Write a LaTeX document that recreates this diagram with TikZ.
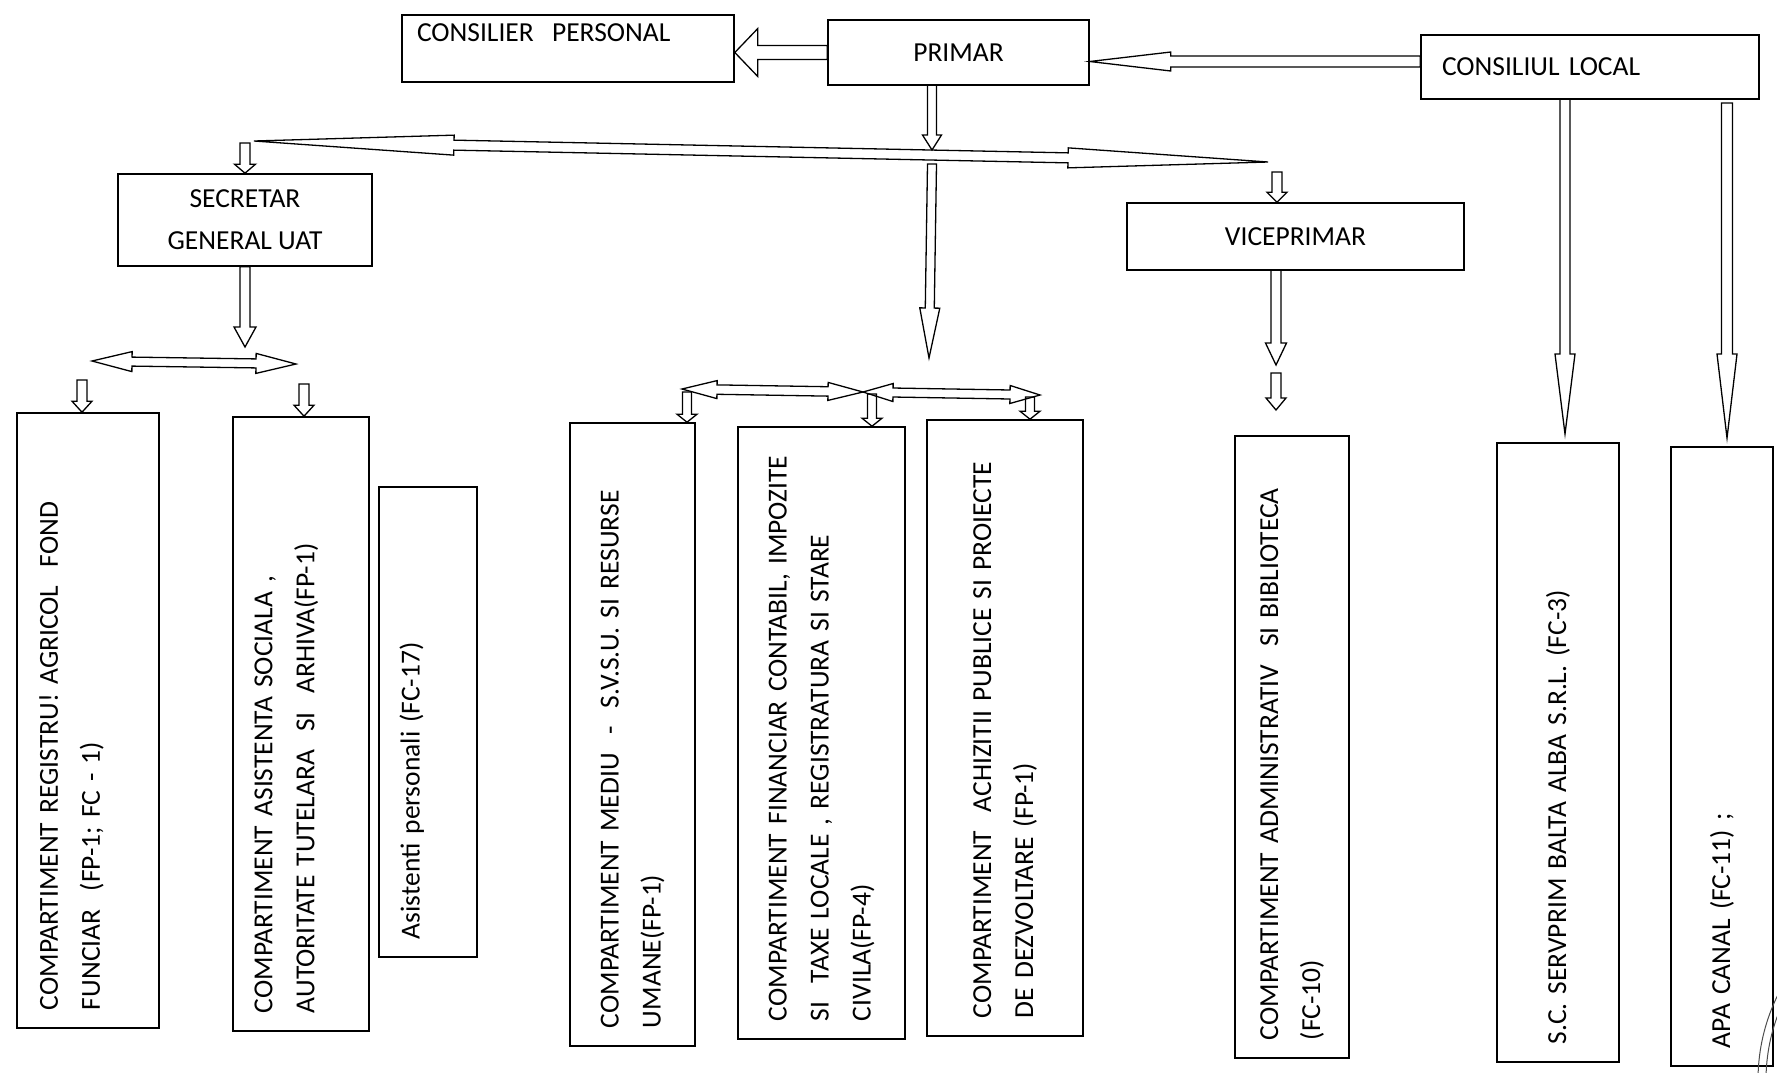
\documentclass[tikz,border=0pt]{standalone}
\usepackage{fontspec}
\setmainfont{Carlito}
\usetikzlibrary{calc, positioning}
\newcommand{\orgfont}{\fontsize{27.5}{42}\selectfont}
% hollow block arrow: from, to, half shaft, half head, head length
\newcommand{\blockarrow}[5]{%
  \coordinate (ab) at ($(#2)!#5pt!(#1)$);
  \draw[arrowline] ($(#1)!#3pt!90:(#2)$) -- ($(ab)!#3pt!90:(#2)$) -- ($(ab)!#4pt!90:(#2)$) -- (#2)
    -- ($(ab)!#4pt!-90:(#2)$) -- ($(ab)!#3pt!-90:(#2)$) -- ($(#1)!#3pt!-90:(#2)$) -- cycle;}
% hollow block arrow with a head at both ends
\newcommand{\dblockarrow}[5]{%
  \coordinate (aa) at ($(#1)!#5pt!(#2)$);
  \coordinate (ab) at ($(#2)!#5pt!(#1)$);
  \draw[arrowline] (#1) -- ($(aa)!#4pt!90:(#2)$) -- ($(aa)!#3pt!90:(#2)$) -- ($(ab)!#3pt!90:(#2)$)
    -- ($(ab)!#4pt!90:(#2)$) -- (#2) -- ($(ab)!#4pt!-90:(#2)$) -- ($(ab)!#3pt!-90:(#2)$)
    -- ($(aa)!#3pt!-90:(#2)$) -- ($(aa)!#4pt!-90:(#2)$) -- cycle;}

\begin{document}
\begin{tikzpicture}[x=1pt, y=-1pt,
    box/.style={draw, line width=1.6pt, inner sep=0pt, font=\orgfont},
    unit/.style={box, rotate=90, align=left, inner xsep=18pt},
    arrowline/.style={draw, line width=1.3pt}]
\useasboundingbox (0,0) rectangle (1777,1072);

\node[box, minimum width=332pt, minimum height=67pt, text width=302pt, inner xsep=15pt, align=left, text height=20pt, text depth=35pt] (cp) at (568,48.5) {CONSILIER\ \ PERSONAL};
\node[box, minimum width=261pt, minimum height=65pt] (pr) at (958.5,52.5) {PRIMAR};
\node[box, minimum width=338pt, minimum height=64pt, text width=296pt, inner xsep=21pt, align=left] (cl) at (1590,67) {CONSILIUL LOCAL};

\node[box, minimum width=254pt, minimum height=92pt, align=center] (sg) at (245,220) {SECRETAR\\GENERAL UAT};
\node[box, minimum width=337pt, minimum height=67pt] (vp) at (1295.5,236.5) {VICEPRIMAR};

\node[unit, minimum width=615pt, minimum height=142pt, text width=579pt, text depth=79pt] (b1) at (88,720.5) {COMPARTIMENT REGISTRU! AGRICOL\ \ FOND\\FUNCIAR\ \ (FP-1; FC - 1)};
\node[unit, minimum width=614pt, minimum height=136pt, text width=578pt, text depth=75pt] (b2) at (301,724) {COMPARTIMENT ASISTENTA SOCIALA ,\\AUTORITATE TUTELARA\ \ SI\ \ ARHIVA(FP-1)};
\node[unit, minimum width=470pt, minimum height=98pt, text width=434pt, text depth=37pt] (b3) at (428,722) {Asistenti personali (FC-17)};
\node[unit, minimum width=623pt, minimum height=125pt, text width=587pt] (b4) at (632.5,734.5) {COMPARTIMENT MEDIU\ \ -\ \ S.V.S.U. SI RESURSE\\UMANE(FP-1)};
\node[unit, minimum width=612pt, minimum height=167pt, text width=576pt] (b5) at (821.5,733) {COMPARTIMENT FINANCIAR CONTABIL, IMPOZITE\\SI\ \ TAXE LOCALE , REGISTRATURA SI STARE\\CIVILA(FP-4)};
\node[unit, minimum width=616pt, minimum height=156pt, text width=580pt] (b6) at (1005,728) {COMPARTIMENT\ \ ACHIZITII PUBLICE SI PROIECTE\\DE DEZVOLTARE (FP-1)};
\node[unit, minimum width=622pt, minimum height=114pt, text width=586pt] (b7) at (1292,747) {COMPARTIMENT ADMINISTRATIV\ \ SI BIBLIOTECA\\(FC-10)};
\node[unit, minimum width=619pt, minimum height=122pt, text width=583pt] (b8) at (1558,752.5) {S.C. SERVPRIM BALTA ALBA S.R.L. (FC-3)};
\node[unit, minimum width=619pt, minimum height=102pt, text width=583pt] (b9) at (1722,756.5) {APA CANAL (FC-11) ;};

\coordinate (cpin) at (cp.east |- pr.west);
\coordinate (prin) at ([yshift=-9pt]pr.east);
\coordinate (clout) at (cl.west |- prin);
\coordinate (prout) at (932,85);
\coordinate (hl) at (254,141);
\coordinate (hr) at (1268,162);
\coordinate (hup) at (932,150);
\coordinate (hdown) at (932,164);
\coordinate (mid) at (929,358);
\coordinate (sgin0) at (245,143);
\coordinate (sgout) at (245,347);
\coordinate (sl) at (92,361);
\coordinate (sr) at (296,364);
\coordinate (u1) at (82,380);
\coordinate (u1e) at (u1 |- b1.east);
\coordinate (u2) at (304,384);
\coordinate (u2e) at (u2 |- b2.east);
\coordinate (ml) at (682,389);
\coordinate (mm) at (863,392);
\coordinate (mr) at (1040,395);
\coordinate (u4) at (687,392);
\coordinate (u4e) at (u4 |- b4.east);
\coordinate (u5) at (872,394);
\coordinate (u5e) at (u5 |- b5.east);
\coordinate (u6) at (1030,397);
\coordinate (u6e) at (u6 |- b6.east);
\coordinate (vp0) at (1277,172);
\coordinate (vpin) at (vp0 |- vp.north);
\coordinate (vpout) at (1276,270);
\coordinate (vpd) at (1276,365);
\coordinate (u7) at (1276,373);
\coordinate (u7e) at (1276,410);
\coordinate (c1) at (1565,99);
\coordinate (c1e) at (1565,434);
\coordinate (c2) at (1727,103);
\coordinate (c2e) at (1727,438);

\blockarrow{pr.west}{cpin}{7}{24}{23}
\blockarrow{clout}{prin}{5.5}{9.5}{81}
\blockarrow{prout}{hup}{4.5}{9.5}{15}
\dblockarrow{hl}{hr}{5}{10}{200}
\blockarrow{hdown}{mid}{4.5}{10}{50}
\blockarrow{sgin0}{sg.north}{5}{10.5}{9}
\blockarrow{sg.south}{sgout}{5}{11}{20}
\dblockarrow{sl}{sr}{4.5}{10}{40}
\blockarrow{u1}{u1e}{5}{10}{11}
\blockarrow{u2}{u2e}{5}{10}{11}
\dblockarrow{ml}{mm}{4.7}{9}{35}
\dblockarrow{mm}{mr}{4.5}{9}{30}
\blockarrow{u4}{u4e}{4.5}{10}{8}
\blockarrow{u5}{u5e}{4.5}{10}{8}
\blockarrow{u6}{u6e}{4.5}{10}{8}
\blockarrow{vp0}{vpin}{5}{10}{10}
\blockarrow{vpout}{vpd}{5}{10.5}{22}
\blockarrow{u7}{u7e}{5}{10}{12}
\blockarrow{c1}{c1e}{5}{10}{80}
\blockarrow{c2}{c2e}{5.5}{10}{84}

\draw[line width=1pt, gray!60!black] (1950,1080) circle (192);
\draw[line width=1pt, gray!60!black] (1950,1080) circle (184);
\end{tikzpicture}
\end{document}
